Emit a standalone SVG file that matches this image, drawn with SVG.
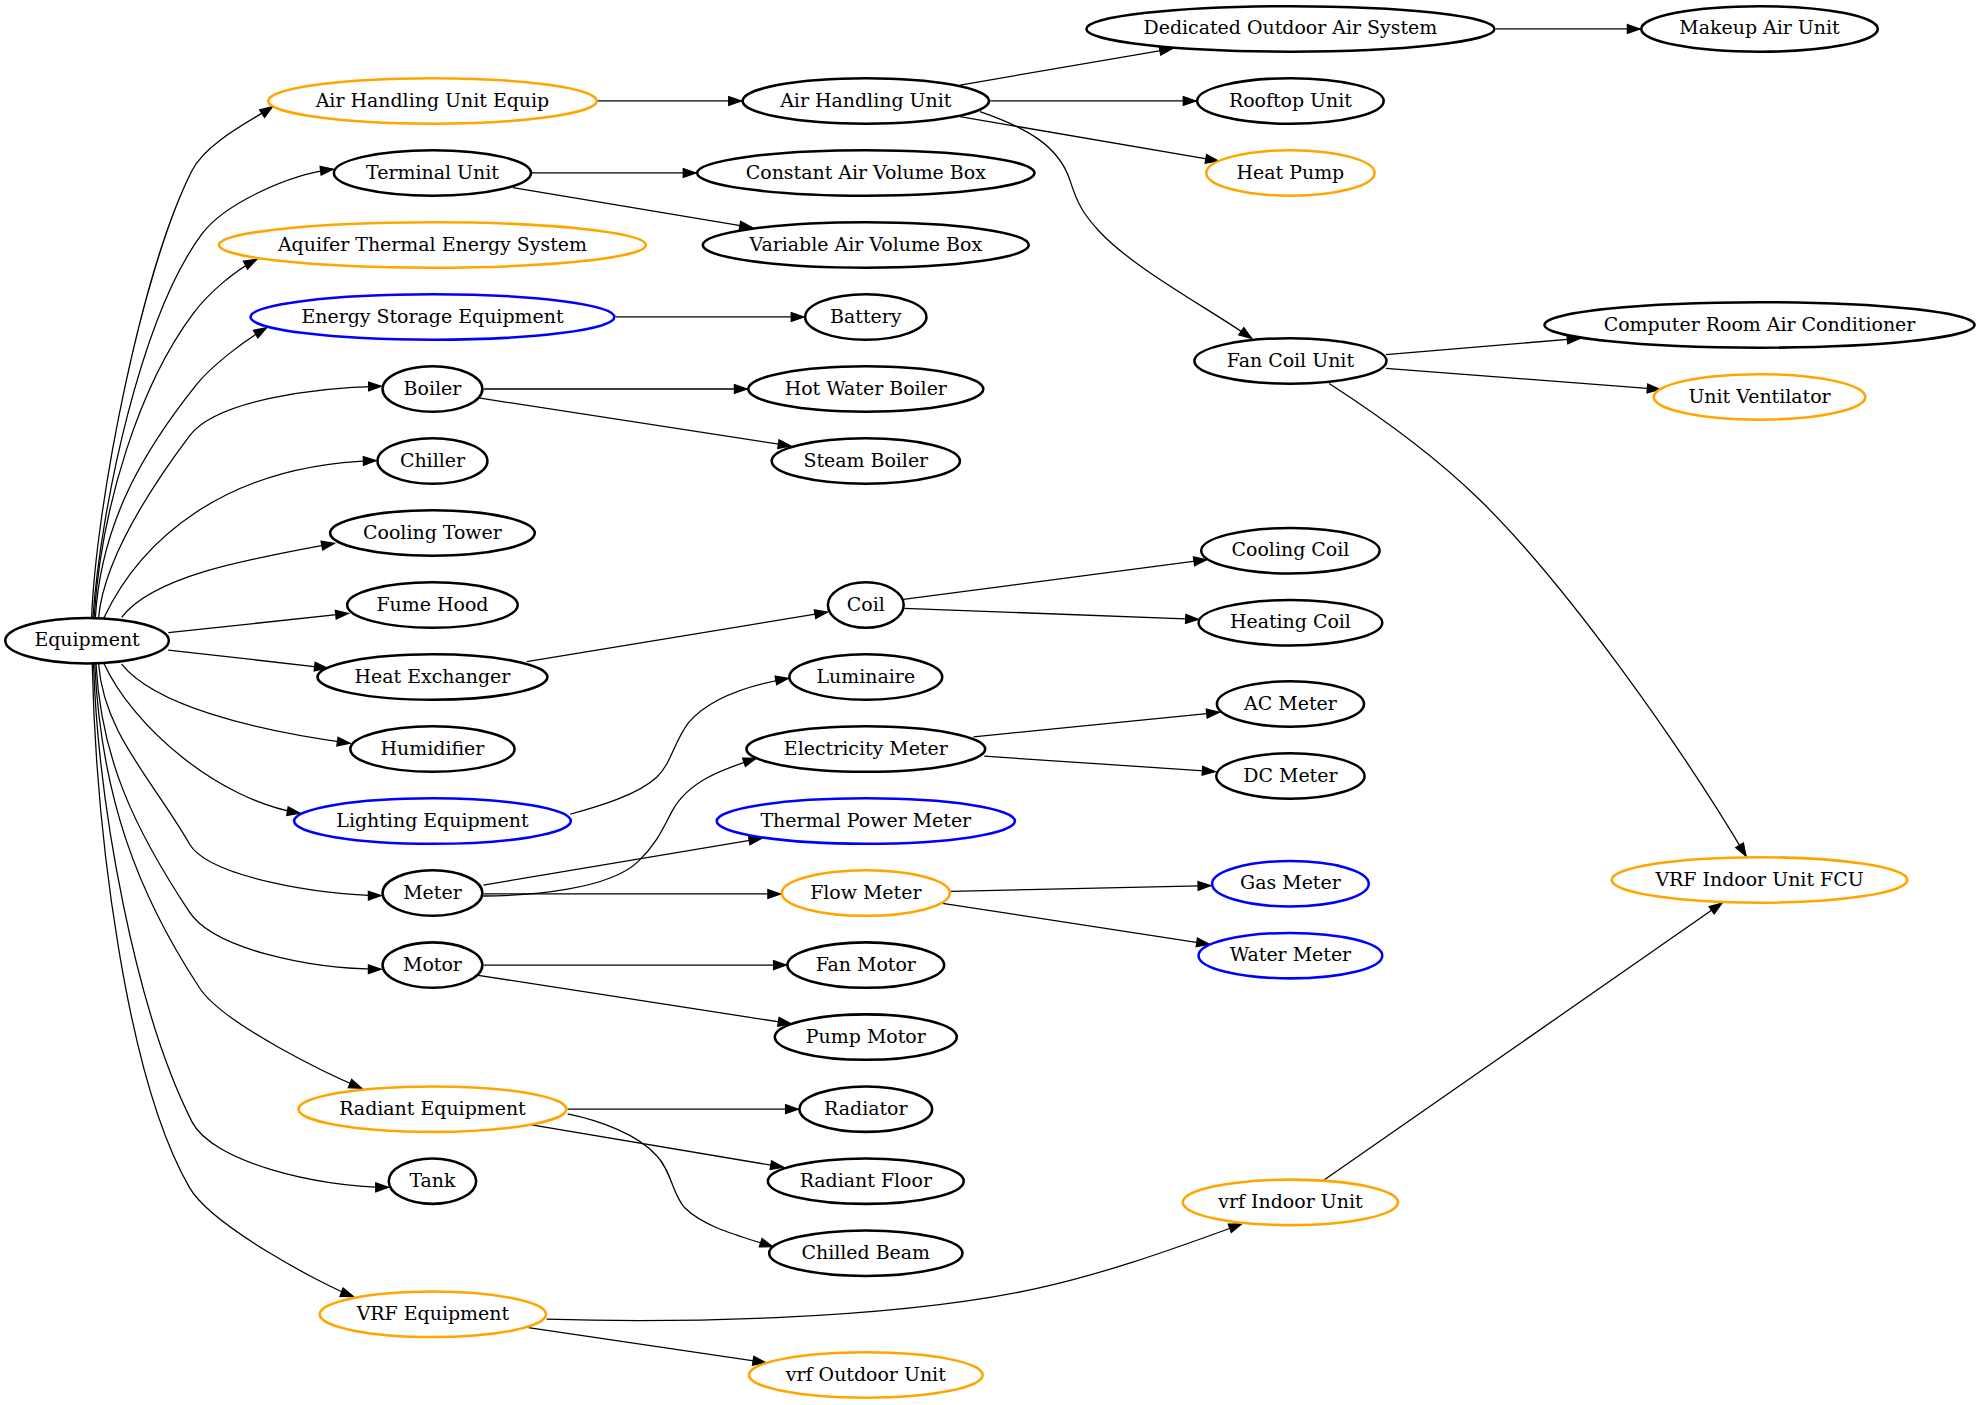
<svg xmlns="http://www.w3.org/2000/svg" width="1981" height="1405" viewBox="0 0 1981 1405">
<style>
.n ellipse{fill:none;stroke:#000;stroke-width:2}
.n.o ellipse{stroke:#ffa500}
.n.b ellipse{stroke:#0000ff}
.n text{font-family:"DejaVu Serif",serif;font-size:15px;text-anchor:middle;fill:#000}
#edges path{fill:none;stroke:#000;stroke-width:1;marker-end:url(#ah)}
</style>
<defs>
<marker id="ah" markerUnits="userSpaceOnUse" viewBox="0 0 10 7" refX="10" refY="3.5" markerWidth="10" markerHeight="7" orient="auto" overflow="visible">
<path d="M0,0L10,3.5L0,7z" fill="#000" stroke="#000" stroke-width="1"/>
</marker>
</defs>
<rect width="1981" height="1405" fill="#fff"/>
<g transform="scale(1.263393)">
<g id="edges">
<path d="M72.5,489 C76,400 111.4,215.3 152,135 C163.3,112.7 199.2,95.4 215.8,84.4"/>
<path d="M73.5,489 C80,400 112,249 160,185 C178,161 229,138 263.7,133.9"/>
<path d="M74.5,489 C80,400 111,304 153,248 C165,232 185.4,214.5 203.2,205.3"/>
<path d="M75.5,489 C80,410 117.8,351.8 155,305 C167.4,289.4 193.8,269.4 211,259.4"/>
<path d="M78,489 C82,445 114,393 150,345 C171,317 250,306.5 301.8,305.8"/>
<path d="M82,489.5 C110,430 175,368 297.6,364.6"/>
<path d="M96.3,488.6 C122,455 200,442 264.6,430"/>
<path d="M133.2,500.8 L275.7,485.5"/>
<path d="M133.2,514.5 L259,528.8"/>
<path d="M96.3,525.6 C122,558 200,578 277,588.3"/>
<path d="M82,524.5 C105,575 172,633 237.4,643.7"/>
<path d="M78,525 C82,580 120,616 150,668 C165,694 255,709 301.6,708.9"/>
<path d="M76,525.5 C80,600 106,655.6 150,722 C169.25,751 245,767.2 301.6,767.2"/>
<path d="M75,525.5 C80,630 108.5,706.9 158,782 C177.25,811.2 263.3,851.9 286.3,861.4"/>
<path d="M74,525.5 C78,640 107,799 152,888 C167.75,919.2 250,939.8 307.4,939.8"/>
<path d="M73,525.5 C76,660 100,853.4 150,940 C167.5,970.3 256.2,1017.5 279.7,1026.3"/>
<path d="M472.3,79.9 L586.8,79.9"/>
<path d="M760,67.3 L928,38.5"/>
<path d="M783.8,79.9 L946.6,79.9"/>
<path d="M759.8,92.3 L964.3,127.4"/>
<path d="M775.7,88.4 C812,101 838,115 847,143 C853,162 858,170 870,183 C898,213 955,243 990.7,267.8"/>
<path d="M1183.9,22.9 L1298.1,22.9"/>
<path d="M420.3,136.9 L550.8,136.9"/>
<path d="M406,148.5 L595.5,180.2"/>
<path d="M487.3,250.9 L636.3,250.9"/>
<path d="M382.8,307.9 L591.3,307.9"/>
<path d="M379,315 L626,353"/>
<path d="M416.9,523.7 L655,484.5"/>
<path d="M715,474.5 L955,443"/>
<path d="M715.8,481.5 L948.5,490.2"/>
<path d="M451.2,644.5 C475,638 505,629 520,615 C532,603 533,588 545,572 C562,552 595,542 624,536.9"/>
<path d="M382.6,709.2 C420,709 482,704 505,682 C520,667.6 525,655 532,642 C545,618 572,609 598.4,600.2"/>
<path d="M382.6,700.5 L602.9,663.5"/>
<path d="M382.8,707.6 L617.8,707.6"/>
<path d="M770.5,583.3 L965.1,563.8"/>
<path d="M779,598.5 L961.7,610.8"/>
<path d="M752.8,705.5 L958.3,701"/>
<path d="M746,715 L957.2,747.4"/>
<path d="M382.8,763.9 L622.3,763.9"/>
<path d="M378.5,772 L626,810.3"/>
<path d="M449.3,877.9 L631.8,877.9"/>
<path d="M420.8,890.4 L620,923.9"/>
<path d="M449.3,881.7 C475,887 505,898 520,915 C532,928 532,945 542,956 C558,972 588,979 611.6,986.7"/>
<path d="M432.7,1044.2 C520,1047 700,1046 820,1020 C870,1009 920,992 982.8,968.8"/>
<path d="M418.2,1050.9 L606,1078.5"/>
<path d="M1048,934 L1363,714.8"/>
<path d="M1097,280.6 L1250.6,267.8"/>
<path d="M1097,291.5 L1313.9,308.2"/>
<path d="M1052,303.5 C1090,328 1135,360 1171.4,395.8 C1240,463 1330,590 1382,677.6"/>
</g>
<g id="n-equipment" class="n"><ellipse cx="68.9" cy="507.1" rx="64.7" ry="18"/><text x="68.9" y="511.5">Equipment</text></g>
<g id="n-ahu-equip" class="n o"><ellipse cx="342.3" cy="79.9" rx="130" ry="18"/><text x="342.3" y="84.3">Air Handling Unit Equip</text></g>
<g id="n-terminal-unit" class="n"><ellipse cx="342.3" cy="136.9" rx="78" ry="18"/><text x="342.3" y="141.3">Terminal Unit</text></g>
<g id="n-aquifer" class="n o"><ellipse cx="342.3" cy="193.9" rx="169" ry="18"/><text x="342.3" y="198.3">Aquifer Thermal Energy System</text></g>
<g id="n-energy-storage" class="n b"><ellipse cx="342.3" cy="250.9" rx="144" ry="18"/><text x="342.3" y="255.3">Energy Storage Equipment</text></g>
<g id="n-boiler" class="n"><ellipse cx="342.3" cy="307.9" rx="39.5" ry="18"/><text x="342.3" y="312.3">Boiler</text></g>
<g id="n-chiller" class="n"><ellipse cx="342.3" cy="364.9" rx="43.5" ry="18"/><text x="342.3" y="369.3">Chiller</text></g>
<g id="n-cooling-tower" class="n"><ellipse cx="342.3" cy="421.9" rx="81" ry="18"/><text x="342.3" y="426.3">Cooling Tower</text></g>
<g id="n-fume-hood" class="n"><ellipse cx="342.3" cy="478.9" rx="67.5" ry="18"/><text x="342.3" y="483.3">Fume Hood</text></g>
<g id="n-heat-exchanger" class="n"><ellipse cx="342.3" cy="535.9" rx="91" ry="18"/><text x="342.3" y="540.3">Heat Exchanger</text></g>
<g id="n-humidifier" class="n"><ellipse cx="342.3" cy="592.9" rx="65" ry="18"/><text x="342.3" y="597.3">Humidifier</text></g>
<g id="n-lighting" class="n b"><ellipse cx="342.3" cy="649.9" rx="109.5" ry="18"/><text x="342.3" y="654.3">Lighting Equipment</text></g>
<g id="n-meter" class="n"><ellipse cx="342.3" cy="706.9" rx="39.5" ry="18"/><text x="342.3" y="711.3">Meter</text></g>
<g id="n-motor" class="n"><ellipse cx="342.3" cy="763.9" rx="39.5" ry="18"/><text x="342.3" y="768.3">Motor</text></g>
<g id="n-radiant-equipment" class="n o"><ellipse cx="342.3" cy="877.9" rx="106" ry="18"/><text x="342.3" y="882.3">Radiant Equipment</text></g>
<g id="n-tank" class="n"><ellipse cx="342.3" cy="934.9" rx="34.6" ry="18"/><text x="342.3" y="939.3">Tank</text></g>
<g id="n-vrf-equipment" class="n o"><ellipse cx="342.6" cy="1040.3" rx="89.6" ry="18"/><text x="342.6" y="1044.7">VRF Equipment</text></g>
<g id="n-air-handling-unit" class="n"><ellipse cx="685.3" cy="79.9" rx="97.5" ry="18"/><text x="685.3" y="84.3">Air Handling Unit</text></g>
<g id="n-cav-box" class="n"><ellipse cx="685.3" cy="136.9" rx="133.5" ry="18"/><text x="685.3" y="141.3">Constant Air Volume Box</text></g>
<g id="n-vav-box" class="n"><ellipse cx="685.3" cy="193.9" rx="129" ry="18"/><text x="685.3" y="198.3">Variable Air Volume Box</text></g>
<g id="n-battery" class="n"><ellipse cx="685.3" cy="250.9" rx="48" ry="18"/><text x="685.3" y="255.3">Battery</text></g>
<g id="n-hot-water-boiler" class="n"><ellipse cx="685.3" cy="307.9" rx="93" ry="18"/><text x="685.3" y="312.3">Hot Water Boiler</text></g>
<g id="n-steam-boiler" class="n"><ellipse cx="685.3" cy="364.9" rx="74.5" ry="18"/><text x="685.3" y="369.3">Steam Boiler</text></g>
<g id="n-coil" class="n"><ellipse cx="685.3" cy="478.9" rx="30" ry="18"/><text x="685.3" y="483.3">Coil</text></g>
<g id="n-luminaire" class="n"><ellipse cx="685.3" cy="535.9" rx="60.5" ry="18"/><text x="685.3" y="540.3">Luminaire</text></g>
<g id="n-electricity-meter" class="n"><ellipse cx="685.3" cy="592.9" rx="94.5" ry="18"/><text x="685.3" y="597.3">Electricity Meter</text></g>
<g id="n-thermal-power-meter" class="n b"><ellipse cx="685.3" cy="649.9" rx="118" ry="18"/><text x="685.3" y="654.3">Thermal Power Meter</text></g>
<g id="n-flow-meter" class="n o"><ellipse cx="685.3" cy="706.9" rx="66.5" ry="18"/><text x="685.3" y="711.3">Flow Meter</text></g>
<g id="n-fan-motor" class="n"><ellipse cx="685.3" cy="763.9" rx="62" ry="18"/><text x="685.3" y="768.3">Fan Motor</text></g>
<g id="n-pump-motor" class="n"><ellipse cx="685.3" cy="820.9" rx="72" ry="18"/><text x="685.3" y="825.3">Pump Motor</text></g>
<g id="n-radiator" class="n"><ellipse cx="685.3" cy="877.9" rx="52.5" ry="18"/><text x="685.3" y="882.3">Radiator</text></g>
<g id="n-radiant-floor" class="n"><ellipse cx="685.3" cy="934.9" rx="77.5" ry="18"/><text x="685.3" y="939.3">Radiant Floor</text></g>
<g id="n-chilled-beam" class="n"><ellipse cx="685.3" cy="991.9" rx="76.5" ry="18"/><text x="685.3" y="996.3">Chilled Beam</text></g>
<g id="n-vrf-outdoor-unit" class="n o"><ellipse cx="685.3" cy="1088.3" rx="92.5" ry="18"/><text x="685.3" y="1092.7">vrf Outdoor Unit</text></g>
<g id="n-doas" class="n"><ellipse cx="1021.4" cy="22.9" rx="161.5" ry="18"/><text x="1021.4" y="27.3">Dedicated Outdoor Air System</text></g>
<g id="n-rooftop-unit" class="n"><ellipse cx="1021.4" cy="79.9" rx="73.8" ry="18"/><text x="1021.4" y="84.3">Rooftop Unit</text></g>
<g id="n-heat-pump" class="n o"><ellipse cx="1021.4" cy="136.9" rx="66.6" ry="18"/><text x="1021.4" y="141.3">Heat Pump</text></g>
<g id="n-fan-coil-unit" class="n"><ellipse cx="1021.4" cy="285.7" rx="76" ry="18"/><text x="1021.4" y="290.1">Fan Coil Unit</text></g>
<g id="n-cooling-coil" class="n"><ellipse cx="1021.4" cy="435.9" rx="70.6" ry="18"/><text x="1021.4" y="440.3">Cooling Coil</text></g>
<g id="n-heating-coil" class="n"><ellipse cx="1021.4" cy="492.9" rx="72.7" ry="18"/><text x="1021.4" y="497.3">Heating Coil</text></g>
<g id="n-ac-meter" class="n"><ellipse cx="1021.4" cy="557.2" rx="58.2" ry="18"/><text x="1021.4" y="561.6">AC Meter</text></g>
<g id="n-dc-meter" class="n"><ellipse cx="1021.4" cy="614.2" rx="58.7" ry="18"/><text x="1021.4" y="618.6">DC Meter</text></g>
<g id="n-gas-meter" class="n b"><ellipse cx="1021.4" cy="699.5" rx="62" ry="18"/><text x="1021.4" y="703.9">Gas Meter</text></g>
<g id="n-water-meter" class="n b"><ellipse cx="1021.4" cy="756.4" rx="72.7" ry="18"/><text x="1021.4" y="760.8">Water Meter</text></g>
<g id="n-vrf-indoor-unit" class="n o"><ellipse cx="1021.4" cy="951.7" rx="85.2" ry="18"/><text x="1021.4" y="956.1">vrf Indoor Unit</text></g>
<g id="n-makeup-air-unit" class="n"><ellipse cx="1392.7" cy="22.9" rx="93.6" ry="18"/><text x="1392.7" y="27.3">Makeup Air Unit</text></g>
<g id="n-crac" class="n"><ellipse cx="1392.7" cy="257.2" rx="170.2" ry="18"/><text x="1392.7" y="261.6">Computer Room Air Conditioner</text></g>
<g id="n-unit-ventilator" class="n o"><ellipse cx="1392.7" cy="314.2" rx="83.7" ry="18"/><text x="1392.7" y="318.6">Unit Ventilator</text></g>
<g id="n-vrf-indoor-unit-fcu" class="n o"><ellipse cx="1392.7" cy="696.5" rx="117" ry="18"/><text x="1392.7" y="700.9">VRF Indoor Unit FCU</text></g>
</g>
</svg>
